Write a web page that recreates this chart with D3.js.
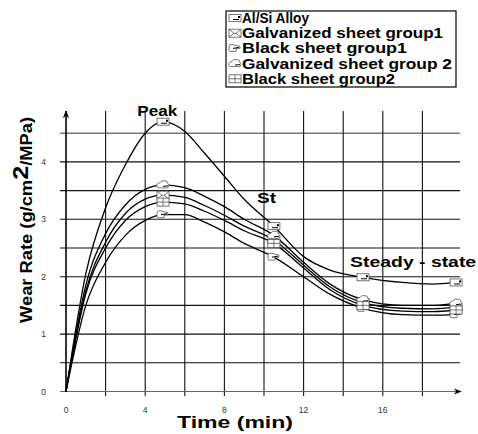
<!DOCTYPE html>
<html>
<head>
<meta charset="utf-8">
<script src="https://cdn.jsdelivr.net/npm/d3@7/dist/d3.min.js"></script>
<style>
  body { margin: 0; background: #fff; }
  text { font-family: "Liberation Sans", Arial, sans-serif; }
</style>
</head>
<body>
<svg id="chart"></svg>
<script>
// data
var times = [0, 1, 2, 3, 4, 4.9, 6, 7, 8, 9, 10.5, 12, 13.3, 15, 17, 18.5, 19.7];
var markerTimes = [4.9, 10.5, 15, 19.7];

var alSi   = [0, 2.05, 3.2, 3.95, 4.5, 4.7, 4.53, 4.15, 3.75, 3.35, 2.88, 2.35, 2.12, 1.99, 1.9, 1.87, 1.9];
var galv1  = [0, 1.75, 2.6, 3.1, 3.35, 3.42, 3.38, 3.24, 3.07, 2.88, 2.64, 2.2, 1.83, 1.55, 1.45, 1.44, 1.47];
var black1 = [0, 1.5, 2.25, 2.72, 2.98, 3.08, 3.08, 2.95, 2.78, 2.58, 2.34, 2.0, 1.7, 1.45, 1.34, 1.33, 1.34];
var galv2  = [0, 1.85, 2.75, 3.25, 3.52, 3.6, 3.55, 3.4, 3.22, 3.0, 2.72, 2.25, 1.88, 1.6, 1.5, 1.5, 1.54];
var black2 = [0, 1.7, 2.5, 2.98, 3.22, 3.3, 3.27, 3.14, 2.98, 2.8, 2.58, 2.15, 1.78, 1.5, 1.4, 1.39, 1.42];

var seriesNames = ['Al/Si Alloy', 'Galvanized sheet group1', 'Black sheet group1',
                   'Galvanized sheet group 2', 'Black sheet group2'];
var seriesValues = [alSi, galv1, black1, galv2, black2];
var seriesIcons = ['doc', 'envelope', 'hand', 'cloud', 'book'];

var xTicks = [0, 4, 8, 12, 16];
var yTicks = [0, 1, 2, 3, 4];

var annotations = [
    {text: 'Peak', t: 3.6, v: 4.8},
    {text: 'St', t: 9.65, v: 3.29},
    {text: 'Steady - state', t: 14.35, v: 2.17}
];

var width = 478, height = 434;
var svg = d3.select('#chart').attr('width', width).attr('height', height);

var x = d3.scaleLinear().domain([0, 20]).range([66, 462]);
var y = d3.scaleLinear().domain([0, 5]).range([391.5, 104.5]);

//grid
var grid = svg.append('g').attr('class', 'grid');
grid.selectAll('line.h')
    .data(d3.range(0.5, 5, 0.5))
    .enter().append('line')
    .attr('x1', 60).attr('x2', 460)
    .attr('y1', function(d) {return y(d);})
    .attr('y2', function(d) {return y(d);})
    .attr('stroke', function(d) {return d === 4.5 ? '#777' : '#111';})
    .attr('stroke-width', function(d) {return d === 4.5 ? 1.6 : 1.1;});
grid.selectAll('line.v')
    .data(d3.range(2, 20, 2))
    .enter().append('line')
    .attr('x1', function(d) {return x(d);})
    .attr('x2', function(d) {return x(d);})
    .attr('y1', 111).attr('y2', 396)
    .attr('stroke', '#111')
    .attr('stroke-width', 1.1);

//axes with arrows
svg.append('defs').append('marker')
    .attr('id', 'arrow')
    .attr('viewBox', '0 0 10 10')
    .attr('refX', 9).attr('refY', 5)
    .attr('markerWidth', 8).attr('markerHeight', 8)
    .attr('markerUnits', 'userSpaceOnUse')
    .attr('orient', 'auto')
    .append('path')
    .attr('d', 'M0,1 L10,5 L0,9 L3,5 Z')
    .attr('fill', '#000');

svg.append('line')
    .attr('x1', 60).attr('x2', 461)
    .attr('y1', y(0)).attr('y2', y(0))
    .attr('stroke', '#666').attr('stroke-width', 1.2)
    .attr('marker-end', 'url(#arrow)');
svg.append('line')
    .attr('x1', x(0)).attr('x2', x(0))
    .attr('y1', y(0)).attr('y2', 111)
    .attr('stroke', '#000').attr('stroke-width', 1.6)
    .attr('marker-end', 'url(#arrow)');

//tick labels
svg.selectAll('text.xt')
    .data(xTicks)
    .enter().append('text')
    .attr('x', function(d) {return x(d);})
    .attr('y', 413)
    .attr('text-anchor', 'middle')
    .attr('font-size', 8.5)
    .attr('fill', '#333')
    .text(function(d) {return d;});
svg.selectAll('text.yt')
    .data(yTicks)
    .enter().append('text')
    .attr('x', 46)
    .attr('y', function(d) {return y(d) + 3;})
    .attr('text-anchor', 'end')
    .attr('font-size', 8.5)
    .attr('fill', '#333')
    .text(function(d) {return d;});

//axis titles
svg.append('text')
    .attr('x', 177).attr('y', 428)
    .attr('font-size', 16).attr('font-weight', 'bold')
    .attr('textLength', 116).attr('lengthAdjust', 'spacingAndGlyphs')
    .text('Time (min)');

var yTitle = svg.append('text')
    .attr('transform', 'translate(32,323) rotate(-90)')
    .attr('font-size', 16).attr('font-weight', 'bold')
    .attr('textLength', 206).attr('lengthAdjust', 'spacingAndGlyphs');
yTitle.append('tspan').text('Wear Rate (g/cm');
yTitle.append('tspan').attr('font-size', 22).attr('dy', -4).text('2');
yTitle.append('tspan').attr('dy', 4).text('/MPa)');

//curves
var line = d3.line()
    .x(function(d) {return x(d[0]);})
    .y(function(d) {return y(d[1]);})
    .curve(d3.curveMonotoneX);

var curves = svg.append('g').attr('class', 'curves');
seriesValues.forEach(function(vals, i) {
    var pts = times.map(function(t, j) {return [t, vals[j]];});
    curves.append('path')
        .datum(pts)
        .attr('d', line)
        .attr('fill', 'none')
        .attr('stroke', '#000')
        .attr('stroke-width', 1.3);
});

//marker icons
function drawIcon(g, kind) {
    var s = '#555';
    if (kind === 'doc') {
        g.append('rect').attr('x', -6).attr('y', -3.5).attr('width', 12).attr('height', 7)
            .attr('fill', '#fff').attr('stroke', s).attr('stroke-width', 0.8);
        g.append('line').attr('x1', -2).attr('x2', 4).attr('y1', 1.5).attr('y2', 1.5)
            .attr('stroke', '#000').attr('stroke-width', 1);
        g.append('rect').attr('x', 3).attr('y', -2).attr('width', 2).attr('height', 2).attr('fill', '#000');
    } else if (kind === 'envelope') {
        g.append('rect').attr('x', -6).attr('y', -4).attr('width', 12).attr('height', 8)
            .attr('fill', '#fff').attr('stroke', s).attr('stroke-width', 0.8);
        g.append('path').attr('d', 'M-6,-4 L0,1 L6,-4 M-6,4 L-1,0 M6,4 L1,0')
            .attr('fill', 'none').attr('stroke', s).attr('stroke-width', 0.8);
    } else if (kind === 'hand') {
        g.append('path').attr('d', 'M-6,-2 Q-6,-4 -3,-4 L5,-2 L5,0 L1,0 L1,3 L-5,3 Q-6,3 -6,1 Z')
            .attr('fill', '#fff').attr('stroke', s).attr('stroke-width', 0.8);
        g.append('line').attr('x1', -2).attr('x2', 4).attr('y1', 0).attr('y2', -1)
            .attr('stroke', '#000').attr('stroke-width', 1);
    } else if (kind === 'cloud') {
        g.append('path').attr('d', 'M-6,2 Q-7,-2 -3,-2 Q-2,-5 2,-4 Q5,-4 5,-1 Q7,1 5,3 L-5,3 Z')
            .attr('fill', '#fff').attr('stroke', s).attr('stroke-width', 0.8);
        g.append('line').attr('x1', 0).attr('x2', 5).attr('y1', 1.5).attr('y2', 1)
            .attr('stroke', '#000').attr('stroke-width', 1);
    } else {
        g.append('rect').attr('x', -6).attr('y', -4).attr('width', 12).attr('height', 8)
            .attr('fill', '#fff').attr('stroke', s).attr('stroke-width', 0.8);
        g.append('path').attr('d', 'M0,-4 L0,4 M-6,0 L6,0')
            .attr('fill', 'none').attr('stroke', s).attr('stroke-width', 0.8);
    }
}

var marks = svg.append('g').attr('class', 'marks');
seriesValues.forEach(function(vals, i) {
    markerTimes.forEach(function(t) {
        var j = times.indexOf(t);
        var g = marks.append('g')
            .attr('transform', 'translate(' + x(t) + ',' + y(vals[j]) + ')');
        drawIcon(g, seriesIcons[i]);
    });
});

//annotations
var annWidths = [40, 19, 126];
svg.selectAll('text.ann')
    .data(annotations)
    .enter().append('text')
    .attr('x', function(d) {return x(d.t);})
    .attr('y', function(d) {return y(d.v);})
    .attr('font-size', 14).attr('font-weight', 'bold')
    .attr('textLength', function(d, i) {return annWidths[i];})
    .attr('lengthAdjust', 'spacingAndGlyphs')
    .text(function(d) {return d.text;});

//legend
var legendWidths = [67, 201, 165, 210, 153];
var legend = svg.append('g').attr('class', 'legend');
legend.append('rect')
    .attr('x', 226).attr('y', 11)
    .attr('width', 230).attr('height', 76)
    .attr('fill', '#fff').attr('stroke', '#000').attr('stroke-width', 1.2);
seriesNames.forEach(function(name, i) {
    var ly = 23 + i * 15.2;
    var g = legend.append('g').attr('transform', 'translate(235,' + (ly - 5) + ')');
    drawIcon(g, seriesIcons[i]);
    legend.append('text')
        .attr('x', 242).attr('y', ly)
        .attr('font-size', 14).attr('font-weight', 'bold')
        .attr('textLength', legendWidths[i]).attr('lengthAdjust', 'spacingAndGlyphs')
        .text(name);
});
</script>
</body>
</html>
